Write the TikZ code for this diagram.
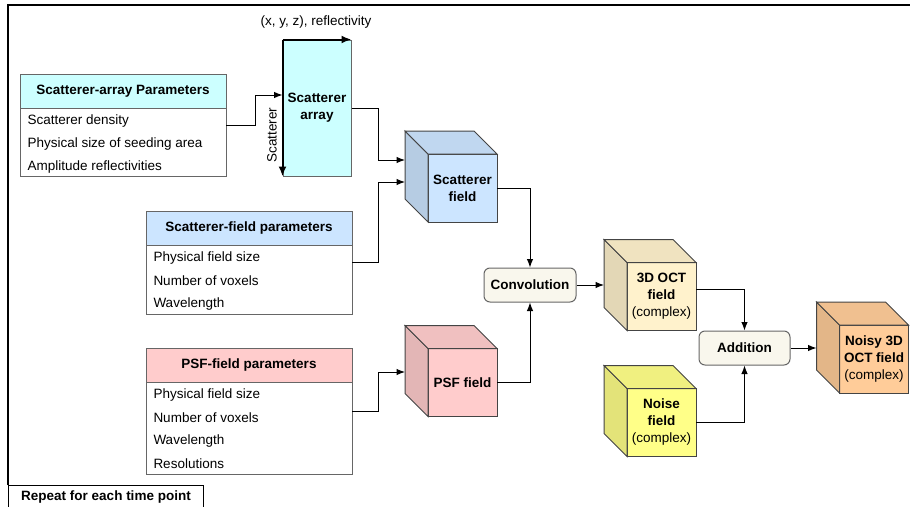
\documentclass[tikz,border=0pt]{standalone}
\usepackage{fontspec}
\setmainfont{Liberation Sans}
\usetikzlibrary{arrows.meta,calc}

\definecolor{arraycyan}{HTML}{CCFFFF}
\definecolor{fieldblue}{HTML}{CCE5FF}
\definecolor{psfpink}{HTML}{FFCCCC}
\definecolor{octcream}{HTML}{FFF2CC}
\definecolor{noiseyellow}{HTML}{FFFF88}
\definecolor{noisyorange}{HTML}{FFCC99}
\definecolor{opfill}{HTML}{F9F7ED}
\definecolor{tableline}{HTML}{666666}
\definecolor{cubeline}{HTML}{444444}

\newcommand{\bodyfont}{\fontsize{13.5}{17}\selectfont}

% front face as a node, then side and top faces behind it
\newcommand{\fieldcube}[4]{%
  \node[cubeface, fill=#3] (#1) at (#2) {#4};
  \filldraw[fill=#3!89!black, draw=cubeline] (#1.north west) -- ++(-23,-23)
    -- ($(#1.south west)+(-23,-23)$) -- (#1.south west) -- cycle;
  \filldraw[fill=#3!94!black, draw=cubeline] (#1.north west) -- ++(-23,-23)
    -- ($(#1.north east)+(-23,-23)$) -- (#1.north east) -- cycle;
  \coordinate (#1-l) at ($(#1.west)+(-23,-23)$);
}

\begin{document}
\begin{tikzpicture}[x=1pt,y=-1pt,line width=1pt,
    >={Latex[length=8.5pt,width=6.5pt]},
    paramtable/.style={draw=tableline, fill=white, minimum width=206, minimum height=#1,
      anchor=north west, inner sep=0, outer sep=0},
    paramhead/.style={draw=tableline, fill=#1, minimum width=206, minimum height=34,
      anchor=north west, outer sep=0, font=\bodyfont\bfseries},
    paramrow/.style={anchor=west, inner sep=0, font=\bodyfont},
    cubeface/.style={draw=cubeline, minimum width=69, minimum height=68, outer sep=0,
      inner sep=1, align=center, font=\bodyfont\bfseries},
    opbox/.style={draw=tableline, fill=opfill, rounded corners=6, minimum width=92,
      minimum height=34, font=\bodyfont\bfseries},
    bigarrow/.style={line width=2pt, -{Latex[length=10pt,width=8pt]}}]

  \useasboundingbox (0,0) rectangle (910,506);

  % frame of the repeated part
  \draw[line width=1.3pt] (8,485) -- (8,5) -- (912,5);
  \node[draw, line width=1pt, anchor=north west, minimum width=195, minimum height=24,
    font=\bodyfont\bfseries] (repeat) at (8,485) {Repeat for each time point};

  % parameter tables
  \node[paramtable=102] (sap) at (20,74) {};
  \node[paramhead=arraycyan] (saphead) at (sap.north west) {Scatterer-array Parameters};
  \foreach \txt [count=\i] in {Scatterer density, Physical size of seeding area, Amplitude reflectivities}
    \node[paramrow] (sap-\i) at ($(sap.north west)+(7,24+23*\i)$) {\txt};

  \node[paramtable=103] (sfp) at (146,211) {};
  \node[paramhead=fieldblue] (sfphead) at (sfp.north west) {Scatterer-field parameters};
  \foreach \txt [count=\i] in {Physical field size, Number of voxels, Wavelength}
    \node[paramrow] (sfp-\i) at ($(sfp.north west)+(7,24+23*\i)$) {\txt};

  \node[paramtable=126] (pfp) at (146,348) {};
  \node[paramhead=psfpink] (pfphead) at (pfp.north west) {PSF-field parameters};
  \foreach \txt [count=\i] in {Physical field size, Number of voxels, Wavelength, Resolutions}
    \node[paramrow] (pfp-\i) at ($(pfp.north west)+(7,24+23*\i)$) {\txt};

  % scatterer array with its two axes
  \node[draw=tableline, fill=arraycyan, minimum width=68, minimum height=136, align=center,
    font=\bodyfont\bfseries] (sarr) at (317,108) {Scatterer\\array};
  \draw[bigarrow] (sarr.north west) -- (sarr.north east);
  \draw[bigarrow] (sarr.north west) -- (sarr.south west);
  \node[font=\bodyfont] (xyz) at (316,22) {(x, y, z), reflectivity};
  \node[rotate=90, font=\bodyfont] (scat) at (272,135) {Scatterer};

  % fields
  \fieldcube{sfield}{462.5,188}{fieldblue}{Scatterer\\field}
  \fieldcube{psf}{462.5,382.5}{psfpink}{PSF field}
  \fieldcube{oct}{661.5,296.5}{octcream}{3D OCT\\field\\\mdseries(complex)}
  \fieldcube{noise}{661.5,422.5}{noiseyellow}{Noise\\field\\\mdseries(complex)}
  \fieldcube{noisy}{874,359}{noisyorange}{Noisy 3D\\OCT field\\\mdseries(complex)}

  % operations
  \node[opbox] (conv) at (530,285) {Convolution};
  \node[opbox, minimum width=91] (add) at (744.5,348) {Addition};

  % connectors
  \draw[->] (sap.east) -- ++(29,0) |- ([yshift=13pt]sarr.west);
  \draw[->] (sarr.east) -- ++(27,0) |- ([yshift=5pt]sfield-l);
  \draw[->] (sfp.east) -- ++(26,0) |- ([yshift=-17pt]sfield-l);
  \draw[->] (pfp.east) -- ++(26,0) |- ([yshift=-12.5pt]psf-l);
  \draw[->] (sfield.east) -| (conv.north);
  \draw[->] (psf.east) -| (conv.south);
  \draw[->] (conv.east) -- (conv.east -| oct-l);
  \draw[->] ([yshift=7pt]oct.east) -| (add.north);
  \draw[->] (noise.east) -| (add.south);
  \draw[->] (add.east) -- (add.east -| noisy-l);

\end{tikzpicture}
\end{document}
